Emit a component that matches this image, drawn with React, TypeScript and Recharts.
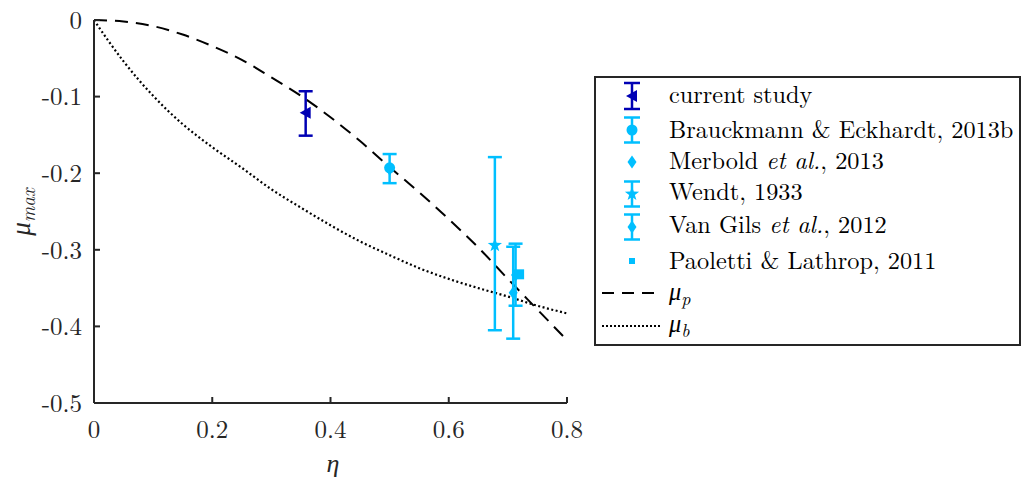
import { ComposedChart, Line, Scatter, ErrorBar, XAxis, YAxis, Legend } from "recharts"

const DARK = "#0000b4"
const LIGHT = "#00bfff"
const INK = "#262626"
const FONT = '"Latin Modern Roman", "Liberation Serif", serif'

// theory curves
const etaP = [0, 0.05, 0.1, 0.15, 0.2, 0.25, 0.3, 0.35, 0.4, 0.45, 0.5, 0.55, 0.6, 0.65, 0.7, 0.75, 0.8]
const muP = [0, -0.002, -0.008, -0.019, -0.034, -0.052, -0.075, -0.099, -0.127, -0.158, -0.192, -0.225, -0.26, -0.297, -0.338, -0.378, -0.418]
const etaB = [0, 0.025, 0.05, 0.1, 0.15, 0.2, 0.25, 0.3, 0.35, 0.4, 0.45, 0.5, 0.55, 0.6, 0.65, 0.7, 0.75, 0.8]
const muB = [0, -0.028, -0.054, -0.099, -0.136, -0.166, -0.193, -0.221, -0.245, -0.268, -0.289, -0.307, -0.324, -0.338, -0.35, -0.361, -0.373, -0.383]

// experiments: centre value and error bounds
const currentEta = [0.358]
const currentMu = [-0.121]
const currentLo = [-0.151]
const currentHi = [-0.093]

const brauckEta = [0.5]
const brauckMu = [-0.193]
const brauckLo = [-0.213]
const brauckHi = [-0.175]

const merboldEta = [0.5]
const merboldMu = [-0.195]

const wendtEta = [0.678]
const wendtMu = [-0.294]
const wendtLo = [-0.405]
const wendtHi = [-0.179]

const vanGilsEta = [0.709, 0.713]
const vanGilsMu = [-0.356, -0.333]
const vanGilsLo = [-0.416, -0.373]
const vanGilsHi = [-0.296, -0.292]

const paolettiEta = [0.719]
const paolettiMu = [-0.332]

const xTicks = [0, 0.2, 0.4, 0.6, 0.8]
const yTicks = [0, -0.1, -0.2, -0.3, -0.4, -0.5]

const legendLabels = [
  "current study",
  "Brauckmann & Eckhardt, 2013b",
  "Merbold et al., 2013",
  "Wendt, 1933",
  "Van Gils et al., 2012",
  "Paoletti & Lathrop, 2011",
  "μ_p",
  "μ_b",
]

const curve = (eta: number[], mu: number[]) => eta.map((e, i) => ({ eta: e, mu: mu[i] }))
const points = (eta: number[], mu: number[], lo?: number[], hi?: number[]) =>
  eta.map((e, i) => ({
    eta: e,
    mu: mu[i],
    err: lo && hi ? [mu[i] - lo[i], hi[i] - mu[i]] : [0, 0],
  }))

type Kind = "left" | "circle" | "diamond" | "star" | "square"

function Marker({ kind, cx, cy, color, s = 1 }: { kind: Kind; cx: number; cy: number; color: string; s?: number }) {
  if (kind === "left") {
    return <polygon points={`${cx - 6 * s},${cy} ${cx + 5 * s},${cy - 6 * s} ${cx + 5 * s},${cy + 6 * s}`} fill={color} />
  }
  if (kind === "circle") return <circle cx={cx} cy={cy} r={5.5 * s} fill={color} />
  if (kind === "diamond") {
    return (
      <polygon
        points={`${cx},${cy - 6.5 * s} ${cx + 4.5 * s},${cy} ${cx},${cy + 6.5 * s} ${cx - 4.5 * s},${cy}`}
        fill={color}
      />
    )
  }
  if (kind === "square") {
    return <rect x={cx - 5 * s} y={cy - 5 * s} width={10 * s} height={10 * s} fill={color} />
  }
  const pts: string[] = []
  for (let k = 0; k < 10; k++) {
    const r = (k % 2 === 0 ? 7.5 : 3) * s
    const a = -Math.PI / 2 + (k * Math.PI) / 5
    pts.push(`${cx + r * Math.cos(a)},${cy + r * Math.sin(a)}`)
  }
  return <polygon points={pts.join(" ")} fill={color} />
}

const shapeOf = (kind: Kind, color: string) => (p: any) => <Marker kind={kind} cx={p.cx} cy={p.cy} color={color} />

// legend layout
const legendIconY = [20, 54, 86, 118, 151, 185, 217, 250]
const legendTextY = [27, 62, 93, 124, 157, 193, 224, 256]
const legendIcons: { kind: Kind | "dash" | "dot"; color: string; bar: number }[] = [
  { kind: "left", color: DARK, bar: 13 },
  { kind: "circle", color: LIGHT, bar: 12.5 },
  { kind: "diamond", color: LIGHT, bar: 0 },
  { kind: "star", color: LIGHT, bar: 12.5 },
  { kind: "diamond", color: LIGHT, bar: 12.5 },
  { kind: "square", color: LIGHT, bar: 0 },
  { kind: "dash", color: "#000", bar: 0 },
  { kind: "dot", color: "#000", bar: 0 },
]

const serif = { fontFamily: FONT }
const LEGEND_SIZE = 24.3

function LegendText({ label, x, y }: { label: string; x: number; y: number }) {
  if (label.startsWith("μ_")) {
    return (
      <text x={x} y={y} style={{ fontFamily: FONT, fontSize: LEGEND_SIZE }} fill="#000">
        <tspan fontStyle="italic">μ</tspan>
        <tspan fontStyle="italic" style={{ fontSize: 18 }} dy={5}>
          {label.slice(2)}
        </tspan>
      </text>
    )
  }
  const parts = label.split("et al.")
  return (
    <text x={x} y={y} style={{ fontFamily: FONT, fontSize: LEGEND_SIZE }} fill="#000">
      {parts.length === 2 ? (
        <>
          <tspan>{parts[0]}</tspan>
          <tspan fontStyle="italic">et al.</tspan>
          <tspan>{parts[1]}</tspan>
        </>
      ) : (
        label
      )}
    </text>
  )
}

function LegendBox() {
  const mx = 38
  return (
    <svg width={427} height={270} style={{ display: "block" }}>
      <rect x={1} y={1} width={425} height={268} fill="#fff" stroke={INK} strokeWidth={2} />
      {legendLabels.map((label, i) => {
        const ic = legendIcons[i]
        const cy = legendIconY[i]
        return (
          <g key={label}>
            {ic.kind === "dash" && <line x1={8} x2={66} y1={cy} y2={cy} stroke="#000" strokeWidth={2} strokeDasharray="12 8" />}
            {ic.kind === "dot" && <line x1={8} x2={66} y1={cy} y2={cy} stroke="#000" strokeWidth={2} strokeDasharray="2 2" />}
            {ic.bar > 0 && (
              <g stroke={ic.color} strokeWidth={2.5}>
                <line x1={mx} x2={mx} y1={cy - ic.bar} y2={cy + ic.bar} />
                <line x1={mx - 8} x2={mx + 8} y1={cy - ic.bar} y2={cy - ic.bar} />
                <line x1={mx - 8} x2={mx + 8} y1={cy + ic.bar} y2={cy + ic.bar} />
              </g>
            )}
            {ic.kind !== "dash" && ic.kind !== "dot" && (
              <Marker kind={ic.kind} cx={mx} cy={cy} color={ic.color} s={ic.kind === "square" ? 0.6 : 1} />
            )}
            <LegendText label={label} x={75} y={legendTextY[i]} />
          </g>
        )
      })}
    </svg>
  )
}

const tickStyle = { fill: INK, fontSize: 25, style: { fontFamily: FONT, fontSize: 25 } }
const axisLine = { stroke: INK, strokeWidth: 2 }
const tickLine = { stroke: INK, strokeWidth: 2 }

export default function App() {
  return (
    <div style={{ position: "absolute", left: 0, top: 0, width: 1022, height: 478, background: "#fff", fontFamily: FONT }}>
      <ComposedChart width={1022} height={478} margin={{ top: 20, right: 455, bottom: 0, left: 0 }} style={serif}>
        <XAxis
          xAxisId="b"
          dataKey="eta"
          type="number"
          domain={[0, 0.8]}
          ticks={xTicks}
          height={75}
          tickSize={-6}
          tickMargin={23}
          tick={tickStyle}
          axisLine={axisLine}
          tickLine={tickLine}
          label={{
            content: () => (
              <text x={333} y={472} textAnchor="middle" style={{ fontFamily: FONT, fontSize: 26 }} fontStyle="italic" fill={INK}>
                η
              </text>
            ),
          }}
        />
        <XAxis
          xAxisId="t"
          orientation="top"
          dataKey="eta"
          type="number"
          domain={[0, 0.8]}
          ticks={xTicks}
          height={0}
          tickSize={-6}
          tickFormatter={() => ""}
          axisLine={axisLine}
          tickLine={tickLine}
        />
        <YAxis
          yAxisId="l"
          type="number"
          domain={[-0.5, 0]}
          ticks={yTicks}
          width={94}
          tickSize={-6}
          tickMargin={18}
          tick={tickStyle}
          axisLine={axisLine}
          tickLine={tickLine}
          label={{
            content: () => (
              <text
                x={30}
                y={212}
                transform="rotate(-90, 30, 212)"
                textAnchor="middle"
                style={{ fontFamily: FONT, fontSize: 27 }}
                fontStyle="italic"
                fill={INK}
              >
                <tspan>μ</tspan>
                <tspan style={{ fontSize: 19 }} dy={5}>
                  max
                </tspan>
              </text>
            ),
          }}
        />
        <YAxis
          yAxisId="r"
          orientation="right"
          type="number"
          domain={[-0.5, 0]}
          ticks={yTicks}
          width={0}
          tickSize={-6}
          tickFormatter={() => ""}
          axisLine={axisLine}
          tickLine={tickLine}
        />

        <Line
          xAxisId="b"
          yAxisId="l"
          data={curve(etaP, muP)}
          dataKey="mu"
          type="monotone"
          stroke="#000"
          strokeWidth={2}
          strokeDasharray="13 8"
          dot={false}
          isAnimationActive={false}
        />
        <Line
          xAxisId="b"
          yAxisId="l"
          data={curve(etaB, muB)}
          dataKey="mu"
          type="monotone"
          stroke="#000"
          strokeWidth={2.2}
          strokeDasharray="2 2.5"
          dot={false}
          isAnimationActive={false}
        />
        <Line
          xAxisId="t"
          yAxisId="r"
          data={curve(etaP, muP)}
          dataKey="mu"
          stroke="none"
          dot={false}
          isAnimationActive={false}
        />

        <Scatter xAxisId="b" yAxisId="l" data={points(merboldEta, merboldMu)} dataKey="mu" shape={shapeOf("diamond", LIGHT)} isAnimationActive={false} />
        <Scatter xAxisId="b" yAxisId="l" data={points(brauckEta, brauckMu, brauckLo, brauckHi)} dataKey="mu" shape={shapeOf("circle", LIGHT)} isAnimationActive={false}>
          <ErrorBar dataKey="err" direction="y" width={7} stroke={LIGHT} strokeWidth={2.5} isAnimationActive={false} />
        </Scatter>
        <Scatter xAxisId="b" yAxisId="l" data={points(wendtEta, wendtMu, wendtLo, wendtHi)} dataKey="mu" shape={shapeOf("star", LIGHT)} isAnimationActive={false}>
          <ErrorBar dataKey="err" direction="y" width={7} stroke={LIGHT} strokeWidth={2.5} isAnimationActive={false} />
        </Scatter>
        <Scatter xAxisId="b" yAxisId="l" data={points(vanGilsEta, vanGilsMu, vanGilsLo, vanGilsHi)} dataKey="mu" shape={shapeOf("diamond", LIGHT)} isAnimationActive={false}>
          <ErrorBar dataKey="err" direction="y" width={7} stroke={LIGHT} strokeWidth={2.5} isAnimationActive={false} />
        </Scatter>
        <Scatter xAxisId="b" yAxisId="l" data={points(paolettiEta, paolettiMu)} dataKey="mu" shape={shapeOf("square", LIGHT)} isAnimationActive={false} />
        <Scatter xAxisId="b" yAxisId="l" data={points(currentEta, currentMu, currentLo, currentHi)} dataKey="mu" shape={shapeOf("left", DARK)} isAnimationActive={false}>
          <ErrorBar dataKey="err" direction="y" width={7} stroke={DARK} strokeWidth={2.5} isAnimationActive={false} />
        </Scatter>

        <Legend
          layout="horizontal"
          verticalAlign="middle"
          align="center"
          content={<LegendBox />}
          wrapperStyle={{ left: 594, top: 76, width: 427, height: 270 }}
        />
      </ComposedChart>
    </div>
  )
}
